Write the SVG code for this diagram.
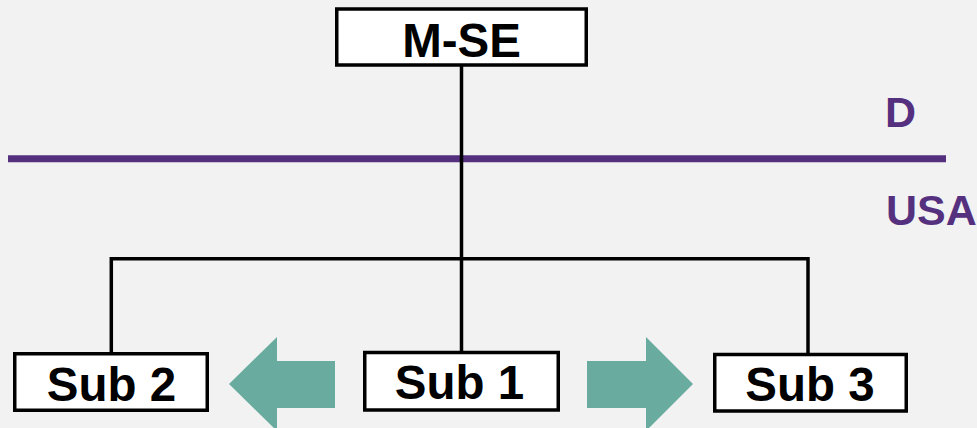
<svg xmlns="http://www.w3.org/2000/svg" width="977" height="428" viewBox="0 0 977 428">
  <style>
    .box { fill: #ffffff; stroke: #000000; stroke-width: 3.5; }
    .label { font-family: "Liberation Sans", Arial, sans-serif; font-weight: bold; fill: #000000; text-anchor: middle; font-size: 47.5px; }
    .region { font-family: "Liberation Sans", Arial, sans-serif; font-weight: bold; fill: #55307f; font-size: 43px; }
    .link { stroke: #000000; stroke-width: 3.5; fill: none; }
    .move { fill: #69ac9f; }
  </style>
  <rect x="0" y="0" width="977" height="428" fill="#f2f2f2"/>

  <!-- border between regions -->
  <g id="border">
    <line x1="8" y1="158.7" x2="946" y2="158.7" stroke="#55307f" stroke-width="7"/>
    <text class="region" x="885" y="127">D</text>
    <text class="region" x="886" y="225">USA</text>
  </g>

  <!-- org-chart connectors -->
  <g id="connectors">
    <line class="link" x1="461.5" y1="66" x2="461.5" y2="352"/>
    <polyline class="link" points="111.3,353 111.3,258.7 808,258.7 808,354"/>
  </g>

  <!-- transfer arrows -->
  <g id="arrows">
    <polygon class="move" points="229,384 277,337 277,361 335,361 335,408 277,408 277,431"/>
    <polygon class="move" points="587,361 646,361 646,337 693,384 646,431 646,408 587,408"/>
  </g>

  <g id="mse">
    <rect class="box" x="336.75" y="9" width="249.5" height="56"/>
    <text class="label" x="461.5" y="56.5">M-SE</text>
  </g>

  <g id="sub2">
    <rect class="box" x="14.75" y="353.75" width="192.5" height="56.5"/>
    <text class="label" x="111.5" y="401">Sub 2</text>
  </g>

  <g id="sub1">
    <rect class="box" x="364.75" y="352.5" width="193.5" height="57.5"/>
    <text class="label" x="459.5" y="399">Sub 1</text>
  </g>

  <g id="sub3">
    <rect class="box" x="714.75" y="354.5" width="191.5" height="56.5"/>
    <text class="label" x="810" y="401">Sub 3</text>
  </g>
</svg>
